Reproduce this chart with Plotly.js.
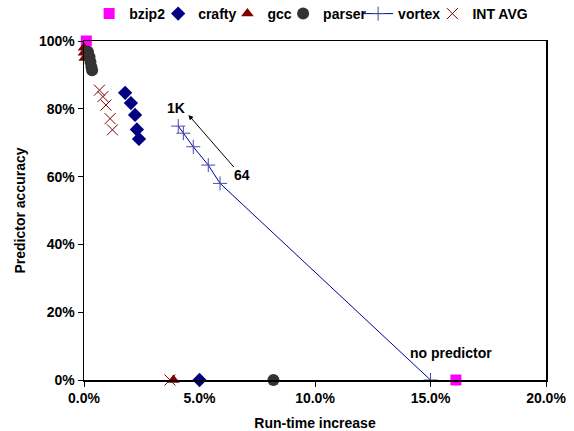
<!DOCTYPE html>
<html>
<head>
<meta charset="utf-8">
<script src="https://cdn.plot.ly/plotly-3.0.1.min.js"></script>
<style>html,body{margin:0;padding:0;background:#fff;}#chart{width:574px;height:431px;}</style>
</head>
<body>
<div id="chart"></div>
<script>
// Run-time increase (fraction) vs predictor accuracy (fraction)
const bzip2X = [0.001, 0.161];
const bzip2Y = [1.0, 0.0];
const craftyX = [0.0178, 0.0203, 0.0221, 0.0229, 0.0238, 0.050];
const craftyY = [0.847, 0.817, 0.782, 0.739, 0.711, 0.0];
const gccX = [0.0, 0.0, 0.0003, 0.0387];
const gccY = [0.98, 0.965, 0.95, 0.0];
const parserX = [0.0017, 0.0024, 0.0028, 0.0032, 0.0035, 0.082];
const parserY = [0.968, 0.953, 0.938, 0.923, 0.914, 0.0];
const vortexX = [0.0408, 0.0430, 0.0473, 0.0538, 0.0589, 0.150];
const vortexY = [0.749, 0.728, 0.688, 0.634, 0.580, 0.0];
const avgX = [0.0067, 0.0082, 0.0095, 0.0113, 0.0123, 0.0372];
const avgY = [0.855, 0.836, 0.811, 0.771, 0.738, 0.0];

const xTicks = [0, 0.05, 0.10, 0.15, 0.20];
const yTicks = [0, 0.2, 0.4, 0.6, 0.8, 1.0];

const F = {family: 'Arial, "Liberation Sans", sans-serif', size: 14, color: '#000', weight: 'bold'};

const traces = [
  {name: 'bzip2', x: bzip2X, y: bzip2Y, mode: 'markers', type: 'scatter', cliponaxis: false, legend: 'legend',
   marker: {symbol: 'square', size: 11, color: '#ff00ff'}},
  {name: 'crafty', x: craftyX, y: craftyY, mode: 'markers', type: 'scatter', cliponaxis: false, legend: 'legend2',
   marker: {symbol: 'diamond', size: 11, color: '#000080'}},
  {name: 'gcc', x: gccX, y: gccY, mode: 'markers', type: 'scatter', cliponaxis: false, legend: 'legend3',
   marker: {symbol: 'triangle-up', size: 11, color: '#800000'}},
  {name: 'parser', x: parserX, y: parserY, mode: 'markers', type: 'scatter', cliponaxis: false, legend: 'legend4',
   marker: {symbol: 'circle', size: 12, color: '#333333'}},
  {name: 'vortex', x: vortexX, y: vortexY, mode: 'lines+markers', type: 'scatter', cliponaxis: false, legend: 'legend5',
   line: {color: '#000099', width: 1},
   marker: {symbol: 'cross-thin', size: 10, color: '#4848a8', line: {color: '#4848a8', width: 1}}},
  {name: 'INT AVG', x: avgX, y: avgY, mode: 'markers', type: 'scatter', cliponaxis: false, legend: 'legend6',
   marker: {symbol: 'x-thin', size: 11, color: '#800000', line: {color: '#800000', width: 1}}}
];

function leg(x) {
  return {orientation: 'h', xref: 'container', x: x, xanchor: 'left', yref: 'container', y: 0.9675, yanchor: 'middle',
          font: F, itemwidth: 30, bgcolor: 'rgba(0,0,0,0)', borderwidth: 0};
}

const layout = {
  width: 574, height: 431,
  margin: {l: 84, r: 28, t: 41, b: 51},
  paper_bgcolor: '#fff', plot_bgcolor: '#fff',
  font: F,
  showlegend: true,
  legend: leg(0.1553), legend2: leg(0.2755), legend3: leg(0.3962),
  legend4: leg(0.4932), legend5: leg(0.6239), legend6: leg(0.7533),
  xaxis: {range: [0, 0.2], tickvals: xTicks, tickformat: '.1%', showgrid: false, zeroline: false,
          showline: true, linecolor: '#000', linewidth: 1.5, mirror: true,
          ticks: 'outside', ticklen: 5, tickcolor: '#000', tickfont: F,
          title: {text: 'Run-time increase', font: F, standoff: 15}},
  yaxis: {range: [0, 1], tickvals: yTicks, tickformat: '.0%', showgrid: false, zeroline: false,
          showline: true, linecolor: '#000', linewidth: 1.5, mirror: true,
          ticks: 'outside', ticklen: 5, tickcolor: '#000', tickfont: F,
          title: {text: 'Predictor accuracy', font: F, standoff: 10}},
  annotations: [
    {x: 0.0452, y: 0.782, ax: 0.0654, ay: 0.624, xref: 'x', yref: 'y', axref: 'x', ayref: 'y',
     showarrow: true, arrowhead: 2, arrowsize: 1, arrowwidth: 1, arrowcolor: '#000', text: ''},
    {x: 0.0398, y: 0.802, xref: 'x', yref: 'y', text: '1K', showarrow: false, font: F},
    {x: 0.0684, y: 0.605, xref: 'x', yref: 'y', text: '64', showarrow: false, font: F},
    {x: 0.159, y: 0.081, xref: 'x', yref: 'y', text: 'no predictor', showarrow: false, font: F}
  ]
};

Plotly.newPlot('chart', traces, layout, {displayModeBar: false, staticPlot: true});
</script>
</body>
</html>
